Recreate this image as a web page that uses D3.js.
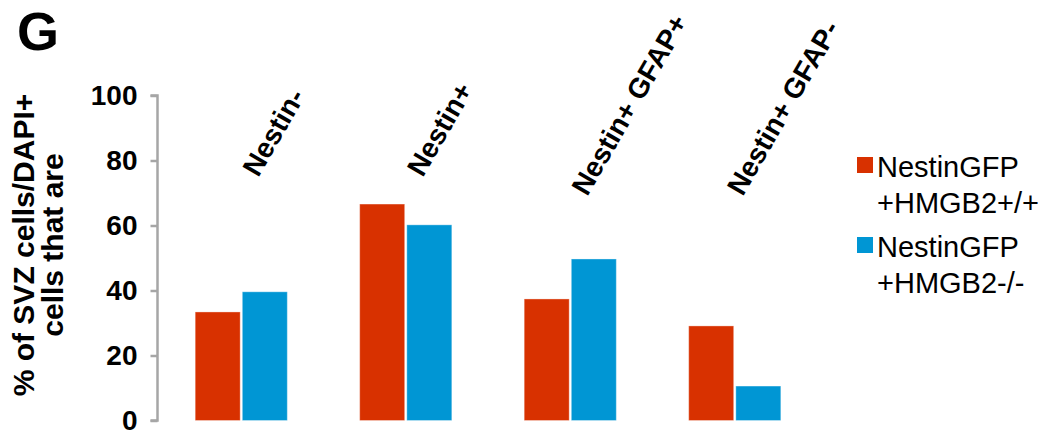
<!DOCTYPE html>
<html><head><meta charset="utf-8">
<script src="https://cdn.jsdelivr.net/npm/d3@7"></script>
<style>
html,body{margin:0;padding:0;background:#fff;}
svg{display:block;font-family:"Liberation Sans",Arial,sans-serif;}
</style></head>
<body>
<svg id="chart" width="1042" height="435"></svg>
<script>
const categories = ["Nestin-", "Nestin+", "Nestin+ GFAP+", "Nestin+ GFAP-"];
const seriesNames = ["NestinGFP +HMGB2+/+", "NestinGFP +HMGB2-/-"];
const legendLines = [["NestinGFP", "+HMGB2+/+"], ["NestinGFP", "+HMGB2-/-"]];
const wildType = [33.4, 66.6, 37.4, 29.1];
const knockout = [39.6, 60.2, 49.7, 10.6];
const yTicks = [0, 20, 40, 60, 80, 100];
const colors = ["#d83100", "#0096d4"];

const svg = d3.select("#chart");
const y = d3.scaleLinear().domain([0, 100]).range([420.5, 95.5]);
const x0 = d3.scaleBand().domain(categories).range([159, 817]).paddingInner(0.44).paddingOuter(0.22);
const x1 = d3.scaleBand().domain(seriesNames).range([0, x0.bandwidth()]).paddingInner(0.045);

const values = [wildType, knockout];
const data = categories.map((c, i) => ({cat: c, vals: seriesNames.map((s, j) => ({s, j, v: values[j][i]}))}));

// bars
const g = svg.append("g");
g.selectAll("g.grp").data(data).join("g")
  .attr("transform", d => `translate(${x0(d.cat)},0)`)
  .selectAll("rect").data(d => d.vals).join("rect")
  .attr("x", d => x1(d.s))
  .attr("width", x1.bandwidth())
  .attr("y", d => y(d.v))
  .attr("height", d => y(0) - y(d.v))
  .attr("fill", d => colors[d.j])
  .attr("stroke", "#fff").attr("stroke-opacity", 0.35).attr("stroke-width", 1);

// y axis
const axis = d3.axisLeft(y).tickValues(yTicks).tickSize(7).tickPadding(13);
const ag = svg.append("g").attr("transform", "translate(157.5,0)").call(axis);
ag.select(".domain").attr("stroke", "#a6a6a6").attr("stroke-width", 2.5).attr("d", `M-7,${y(100)}H0V${y(0)}H-7`);
ag.selectAll(".tick line").attr("stroke", "#a6a6a6").attr("stroke-width", 2.5);
ag.selectAll(".tick text").attr("font-size", 28).attr("font-weight", "bold").attr("fill", "#000")
  .attr("font-family", "'Liberation Sans', Arial, sans-serif").attr("dy", "0.32em");

// category labels (start-anchored near each group centre, rotated)
svg.append("g").selectAll("text").data(categories).join("text")
  .attr("transform", (d, i) => `translate(${x0(d) + x0.bandwidth() / 2 + (i === 3 ? 8 : 17)},${d.includes(" ") ? 197 : 178}) rotate(-60)`)
  .attr("font-size", 28).attr("font-weight", "bold").attr("fill", "#000")
  .text(d => d);

// y title
const yt = svg.append("text").attr("transform", "translate(34,245) rotate(-90)")
  .attr("text-anchor", "middle").attr("font-size", 30).attr("font-weight", "bold");
yt.append("tspan").attr("x", 0).attr("dy", 0).text("% of SVZ cells/DAPI+");
yt.append("tspan").attr("x", 0).attr("dy", 29).text("cells that are");

// panel letter
svg.append("text").attr("x", 17).attr("y", 50).attr("font-size", 54).attr("font-weight", "bold").text("G");

// legend
const lg = svg.append("g").selectAll("g").data(legendLines).join("g")
  .attr("transform", (d, i) => `translate(857,${157 + i * 80})`);
lg.append("rect").attr("width", 16).attr("height", 16).attr("fill", (d, i) => colors[i]);
lg.append("text").attr("x", 20).attr("y", 20).attr("font-size", 29)
  .selectAll("tspan").data(d => d).join("tspan")
  .attr("x", 20).attr("dy", (d, k) => k === 0 ? 0 : 36).text(d => d);
</script>
</body></html>
